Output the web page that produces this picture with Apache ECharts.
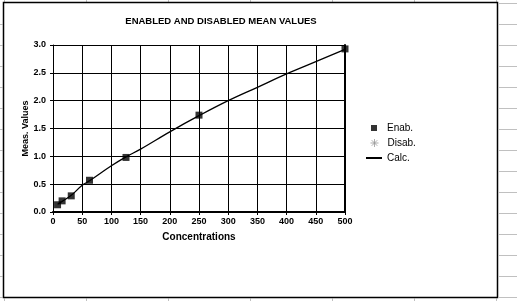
<!DOCTYPE html>
<html>
<head>
<meta charset="utf-8">
<script src="https://cdn.jsdelivr.net/npm/echarts@6/dist/echarts.min.js"></script>
<style>html,body{margin:0;padding:0;background:#fff}#c{width:517px;height:301px}</style>
</head>
<body>
<div id="c"></div>
<script>
// Data
const enabConc = [7.8, 15.6, 31.25, 62.5, 125, 250, 500];
const enabVals = [0.13, 0.20, 0.29, 0.57, 0.98, 1.74, 2.93];
const disabConc = [];
const disabVals = [];
const calcConc = [7.8, 15.6, 31.25, 50, 62.5, 100, 125, 150, 200, 250, 300, 350, 400, 450, 500];
const calcVals = [0.14, 0.19, 0.30, 0.48, 0.56, 0.83, 0.99, 1.13, 1.44, 1.73, 2.00, 2.24, 2.48, 2.70, 2.92];
const xTicks = { min: 0, max: 500, interval: 50 };
const yTicks = { min: 0, max: 3, interval: 0.5 };
const titleText = 'ENABLED AND DISABLED MEAN VALUES';

const FONT = 'Arial, "Liberation Sans", sans-serif';
const chart = echarts.init(document.getElementById('c'), null, { renderer: 'canvas' });

// spreadsheet background lines
const bg = [];
for (let k = 0; k <= 14; k++) {
  const y = 3.5 + 21 * k;
  bg.push({ type: 'line', shape: { x1: 499, y1: y, x2: 517, y2: y }, style: { stroke: '#c0c0c0', lineWidth: 1 }, silent: true });
  bg.push({ type: 'line', shape: { x1: 0, y1: y + 21, x2: 2.5, y2: y + 21 }, style: { stroke: '#c0c0c0', lineWidth: 1 }, silent: true });
}
[4.5, 86.5, 168.5, 250.5, 332.5, 414.5, 496.5].forEach(x => {
  bg.push({ type: 'line', shape: { x1: x, y1: 0, x2: x, y2: 2 }, style: { stroke: '#c0c0c0', lineWidth: 1 }, silent: true });
  bg.push({ type: 'line', shape: { x1: x, y1: 298.5, x2: x, y2: 301 }, style: { stroke: '#c0c0c0', lineWidth: 1 }, silent: true });
});
bg.push({ type: 'rect', shape: { x: 3.5, y: 2.5, width: 494, height: 295 }, style: { fill: 'none', stroke: '#000', lineWidth: 1.5 }, silent: true, z: 10 });

const asterisk = 'path://M4,0L4,8M0,4L8,4M1.2,1.2L6.8,6.8M1.2,6.8L6.8,1.2';

chart.setOption({
  animation: false,
  backgroundColor: '#fff',
  title: {
    text: titleText, left: 216, top: 11, textAlign: 'center',
    textStyle: { fontFamily: FONT, fontSize: 9.5, fontWeight: 'bold', color: '#000' }
  },
  graphic: bg,
  legend: [
    { data: [{ name: 'Enab.', icon: 'rect' }], orient: 'vertical', left: 371, top: 123, padding: 0, itemWidth: 6, itemHeight: 6, itemGap: 5,
      textStyle: { fontFamily: FONT, fontSize: 10, color: '#000', padding: [0, 0, 0, 5] }, selectedMode: false },
    { data: [{ name: 'Disab.', icon: asterisk, itemStyle: { color: 'transparent', borderColor: '#999', borderWidth: 1 } }], orient: 'vertical', left: 370, top: 138, padding: 0, itemWidth: 8, itemHeight: 8, itemGap: 5,
      textStyle: { fontFamily: FONT, fontSize: 10, color: '#000', padding: [0, 0, 0, 4] }, selectedMode: false },
    { data: [{ name: 'Calc.', icon: 'rect' }], orient: 'vertical', left: 366, top: 153, padding: 0, itemWidth: 16, itemHeight: 2, itemGap: 5,
      textStyle: { fontFamily: FONT, fontSize: 10, color: '#000', padding: [0, 0, 0, 0] }, selectedMode: false }
  ],
  grid: { left: 53, right: 172, top: 45, bottom: 89, containLabel: false },
  xAxis: {
    type: 'value', min: xTicks.min, max: xTicks.max, interval: xTicks.interval,
    name: 'Concentrations', nameLocation: 'middle', nameGap: 20,
    nameTextStyle: { fontFamily: FONT, fontSize: 10, fontWeight: 'bold', color: '#000' },
    axisLine: { show: true, lineStyle: { color: '#000', width: 2 } },
    axisTick: { show: true, length: 3, lineStyle: { color: '#000' } },
    axisLabel: { fontFamily: FONT, fontSize: 9, fontWeight: 'bold', color: '#000', margin: 5 },
    splitLine: { show: true, lineStyle: { color: '#000', width: 1 } }
  },
  yAxis: [{
    type: 'value', min: yTicks.min, max: yTicks.max, interval: yTicks.interval,
    name: 'Meas. Values', nameLocation: 'middle', nameGap: 23, nameMoveOverlap: false,
    nameTextStyle: { fontFamily: FONT, fontSize: 9, fontWeight: 'bold', color: '#000' },
    axisLine: { show: true, lineStyle: { color: '#000', width: 1 } },
    axisTick: { show: true, length: 3, lineStyle: { color: '#000' } },
    axisLabel: { fontFamily: FONT, fontSize: 9, fontWeight: 'bold', color: '#000', margin: 7, formatter: v => v.toFixed(1) },
    splitLine: { show: true, lineStyle: { color: '#000', width: 1 } }
  }, {
    type: 'value', min: yTicks.min, max: yTicks.max, position: 'right',
    axisLine: { show: true, lineStyle: { color: '#000', width: 2 } },
    axisTick: { show: false }, axisLabel: { show: false }, splitLine: { show: false }
  }],
  series: [
    { name: 'Calc.', type: 'line', smooth: 0.4, showSymbol: false, symbol: 'none', z: 2,
      data: calcConc.map((c, i) => [c, calcVals[i]]), lineStyle: { color: '#000', width: 1.3 }, itemStyle: { color: '#000' } },
    { name: 'Enab.', type: 'scatter', symbol: 'rect', symbolSize: 7, z: 3,
      data: enabConc.map((c, i) => [c, enabVals[i]]), itemStyle: { color: '#000' } },
    { name: 'Disab.', type: 'scatter', symbol: asterisk, symbolSize: 8,
      data: disabConc.map((c, i) => [c, disabVals[i]]), itemStyle: { color: 'transparent', borderColor: '#999', borderWidth: 1 } }
  ]
});
</script>
</body>
</html>
